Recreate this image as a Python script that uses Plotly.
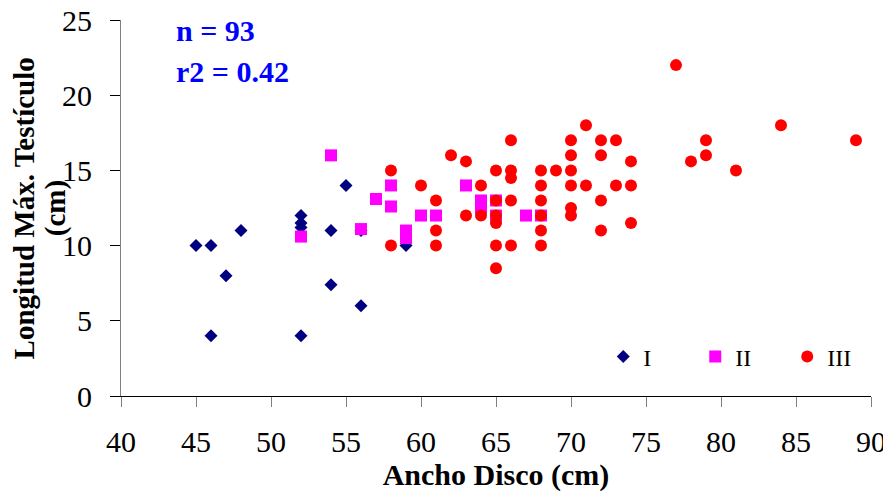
import plotly.graph_objects as go

# Group I (diamonds)
x_I = [45, 46, 46, 47, 48, 52, 52, 52, 52, 54, 54, 55, 56, 56, 59]
y_I = [10, 10, 4, 8, 11, 12, 11.5, 11.2, 4, 11, 7.4, 14, 11, 6, 10]

# Group II (squares)
x_II = [52, 54, 56, 57, 58, 58, 59, 59, 60, 61, 63, 64, 64, 65, 65, 67, 68]
y_II = [10.6, 16, 11.1, 13.1, 14, 12.6, 11, 10.5, 12, 12, 14, 13, 12.5, 13, 12, 12, 12]

# Group III (circles)
x_III = [58, 58, 60, 61, 61, 61, 62, 63, 63, 64, 64, 65, 65, 65, 65, 65, 65,
         66, 66, 66, 66, 66, 68, 68, 68, 68, 68, 68, 69, 70, 70, 70, 70, 70, 70,
         71, 71, 72, 72, 72, 72, 73, 73, 74, 74, 74, 77, 78, 79, 79, 81, 84, 89]
y_III = [15, 10, 14, 13, 11, 10, 16, 15.6, 12, 14, 12, 15, 13, 12, 11.5, 10, 8.5,
         17, 15, 14.5, 13, 10, 15, 14, 13, 12, 11, 10, 15, 17, 16, 15, 14, 12.5, 12,
         18, 14, 17, 16, 13, 11, 17, 14, 15.6, 14, 11.5, 22, 15.6, 17, 16, 15, 18, 17]

x_ticks = [40, 45, 50, 55, 60, 65, 70, 75, 80, 85, 90]
y_ticks = [0, 5, 10, 15, 20, 25]

FONT = "Liberation Serif"

fig = go.Figure()
fig.add_trace(go.Scatter(x=x_I, y=y_I, mode="markers", name="I",
                         marker=dict(symbol="diamond", size=10, color="#000080")))
fig.add_trace(go.Scatter(x=x_II, y=y_II, mode="markers", name="II",
                         marker=dict(symbol="square", size=12, color="#FF00FF")))
fig.add_trace(go.Scatter(x=x_III, y=y_III, mode="markers", name="III",
                         marker=dict(symbol="circle", size=12, color="#FF0000")))

# page body has an 8px margin, so the figure is sized to the visible area
fig.update_layout(
    width=883, height=484,
    margin=dict(l=113, r=17, t=12, b=96),
    paper_bgcolor="white", plot_bgcolor="white",
    font=dict(family=FONT, color="black", size=30),
    showlegend=True,
    legend=dict(orientation="h", x=0.643, y=0.104, xanchor="left", yanchor="middle",
                font=dict(family=FONT, size=24, color="black"),
                entrywidth=47, bgcolor="rgba(0,0,0,0)"),
    annotations=[
        dict(text="<b>n = 93</b>", xref="paper", yref="paper", x=0.07, y=0.973,
             xanchor="left", yanchor="middle", showarrow=False,
             font=dict(family=FONT, size=30, color="#0000FF")),
        dict(text="<b>r2 = 0.42</b>", xref="paper", yref="paper", x=0.07, y=0.862,
             xanchor="left", yanchor="middle", showarrow=False,
             font=dict(family=FONT, size=30, color="#0000FF")),
        dict(text="<b>Longitud Máx. Testículo</b>", xref="paper", yref="paper",
             x=(16 - 113) / 753, y=0.5, xanchor="center", yanchor="middle",
             textangle=-90, showarrow=False,
             font=dict(family=FONT, size=29, color="black")),
        dict(text="<b>(cm)</b>", xref="paper", yref="paper",
             x=(47 - 113) / 753, y=0.5, xanchor="center", yanchor="middle",
             textangle=-90, showarrow=False,
             font=dict(family=FONT, size=29, color="black")),
    ],
)

fig.update_xaxes(range=[40, 90], tickvals=x_ticks, ticktext=[str(v) for v in x_ticks],
                 automargin=False, ticklabeloverflow="allow",
                 showgrid=False, zeroline=False, showline=True, linecolor="black", linewidth=1,
                 ticks="outside", ticklen=10, tickcolor="#808080", tickwidth=1,
                 ticklabelstandoff=9,
                 tickfont=dict(family=FONT, size=30, color="black"),
                 title=dict(text="<b>Ancho Disco (cm)</b>", standoff=2,
                            font=dict(family=FONT, size=30, color="black")))
fig.update_yaxes(range=[0, 25], tickvals=y_ticks, ticktext=[str(v) for v in y_ticks],
                 automargin=False, ticklabeloverflow="allow",
                 showgrid=False, zeroline=False, showline=True, linecolor="#808080", linewidth=1,
                 ticks="outside", ticklen=10, tickcolor="black", tickwidth=1,
                 ticklabelstandoff=12,
                 tickfont=dict(family=FONT, size=30, color="black"))

fig.write_html("out.html")
